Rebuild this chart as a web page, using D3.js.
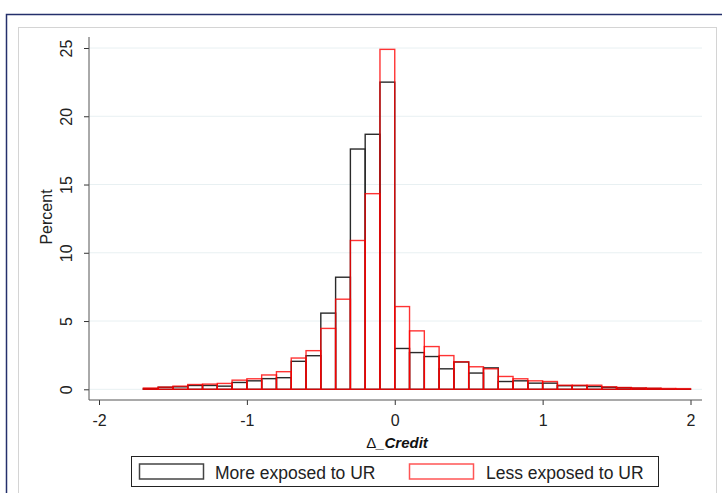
<!DOCTYPE html>
<html>
<head>
<meta charset="utf-8">
<title>Histogram of Delta Credit</title>
<script src="https://d3js.org/d3.v7.min.js"></script>
<style>
  body { margin: 0; background: #fff; }
  text { font-family: "Liberation Sans", Arial, sans-serif; }
</style>
</head>
<body>
<div id="container"></div>
<script>
// lower edge of each 0.1-wide bin
const binEdges = [-1.7, -1.6, -1.5, -1.4, -1.3, -1.2, -1.1, -1.0, -0.9, -0.8,
  -0.7, -0.6, -0.5, -0.4, -0.3, -0.2, -0.1, 0.0, 0.1, 0.2,
  0.3, 0.4, 0.5, 0.6, 0.7, 0.8, 0.9, 1.0, 1.1, 1.2,
  1.3, 1.4, 1.5, 1.6, 1.7, 1.8, 1.9];
const binWidth = 0.1;

// percent, "More exposed to UR"
const moreExposed = [0.05, 0.15, 0.18, 0.28, 0.28, 0.23, 0.5, 0.62, 0.78, 0.85,
  2.05, 2.46, 5.58, 8.21, 17.6, 18.68, 22.5, 2.99, 2.69, 2.4,
  1.5, 2.0, 1.19, 1.57, 0.57, 0.62, 0.45, 0.45, 0.26, 0.26,
  0.2, 0.15, 0.12, 0.08, 0.06, 0.02, 0.01];

// percent, "Less exposed to UR"
const lessExposed = [0.09, 0.16, 0.23, 0.35, 0.38, 0.43, 0.67, 0.77, 1.05, 1.29,
  2.29, 2.83, 4.46, 6.6, 10.9, 14.33, 24.9, 6.06, 4.28, 3.13,
  2.47, 2.01, 1.65, 1.5, 0.94, 0.77, 0.62, 0.57, 0.3, 0.3,
  0.3, 0.18, 0.13, 0.1, 0.08, 0.06, 0.05];

const xTicks = [-2, -1, 0, 1, 2];
const yTicks = [0, 5, 10, 15, 20, 25];
const seriesNames = ["More exposed to UR", "Less exposed to UR"];

const width = 722, height = 493;
const plotLeft = 89, plotRight = 702, plotTop = 37, plotBottom = 400;

const svg = d3.select("#container")
  .append("svg")
  .attr("width", width)
  .attr("height", height);

// outer frames
svg.append("rect")
  .attr("x", 6.5).attr("y", 14.5)
  .attr("width", 740).attr("height", 500)
  .attr("fill", "none").attr("stroke", "#24306b").attr("stroke-width", 1.5);
svg.append("rect")
  .attr("x", 18.5).attr("y", 27.5)
  .attr("width", 698).attr("height", 500)
  .attr("fill", "none").attr("stroke", "#d4d4d4").attr("stroke-width", 1);

const x = d3.scaleLinear().domain([-2, 2]).range([99, 690.5]);
const y = d3.scaleLinear().domain([0, 25]).range([389.3, 48]);

// gridlines
svg.append("g")
  .selectAll("line")
  .data(yTicks)
  .enter()
  .append("line")
  .attr("x1", plotLeft).attr("x2", plotRight)
  .attr("y1", d => y(d)).attr("y2", d => y(d))
  .attr("stroke", "#e8f0f2").attr("stroke-width", 1);

const bins = binEdges.map((b, i) => ({ x0: b, x1: b + binWidth, more: moreExposed[i], less: lessExposed[i] }));

// black outlines first, red on top
svg.append("g")
  .selectAll("rect")
  .data(bins)
  .enter()
  .append("rect")
  .attr("x", d => x(d.x0))
  .attr("width", d => x(d.x1) - x(d.x0))
  .attr("y", d => y(d.more))
  .attr("height", d => y(0) - y(d.more))
  .attr("fill", "none")
  .attr("stroke", "#2a2a2a")
  .attr("stroke-width", 1.4);

svg.append("g")
  .selectAll("rect")
  .data(bins)
  .enter()
  .append("rect")
  .attr("x", d => x(d.x0))
  .attr("width", d => x(d.x1) - x(d.x0))
  .attr("y", d => y(d.less))
  .attr("height", d => y(0) - y(d.less))
  .attr("fill", "none")
  .attr("stroke", "#ff0000")
  .attr("stroke-opacity", 0.8)
  .attr("stroke-width", 1.4);

// y axis
const yAxis = d3.axisLeft(y)
  .tickValues(yTicks)
  .tickSize(5)
  .tickSizeOuter(0)
  .tickFormat(d => String(d));

const gy = svg.append("g")
  .attr("transform", "translate(" + plotLeft + ",0)")
  .call(yAxis);
gy.select(".domain").remove();
gy.selectAll(".tick line").attr("stroke", "#333");
gy.selectAll(".tick text")
  .attr("x", 0).attr("y", -23).attr("dy", "0.35em")
  .attr("transform", "rotate(-90)")
  .attr("text-anchor", "middle")
  .style("font-size", "16px")
  .attr("fill", "#222");
svg.append("line")
  .attr("x1", plotLeft).attr("x2", plotLeft)
  .attr("y1", plotTop).attr("y2", plotBottom)
  .attr("stroke", "#555").attr("stroke-width", 1);

// x axis
const xAxis = d3.axisBottom(x)
  .tickValues(xTicks)
  .tickSize(5)
  .tickSizeOuter(0)
  .tickFormat(d => String(d));

const gx = svg.append("g")
  .attr("transform", "translate(0," + plotBottom + ")")
  .call(xAxis);
gx.select(".domain").remove();
gx.selectAll(".tick line").attr("stroke", "#333");
gx.selectAll(".tick text")
  .attr("y", 26).attr("dy", 0)
  .style("font-size", "16px")
  .attr("fill", "#222");
svg.append("line")
  .attr("x1", plotLeft).attr("x2", plotRight)
  .attr("y1", plotBottom).attr("y2", plotBottom)
  .attr("stroke", "#555").attr("stroke-width", 1);

// axis titles
svg.append("text")
  .attr("transform", "translate(52,217) rotate(-90)")
  .attr("text-anchor", "middle")
  .style("font-size", "16px")
  .attr("fill", "#222")
  .text("Percent");

const xTitle = svg.append("text")
  .attr("x", 397).attr("y", 448)
  .attr("text-anchor", "middle")
  .style("font-size", "15px")
  .attr("fill", "#111");
xTitle.append("tspan").text("Δ");
xTitle.append("tspan").style("font-weight", "bold").style("font-style", "italic").text("_Credit");

// legend
const legend = svg.append("g");
legend.append("rect")
  .attr("x", 131.5).attr("y", 456.5)
  .attr("width", 527).attr("height", 30)
  .attr("fill", "#fff").attr("stroke", "#222").attr("stroke-width", 1);

const legendItems = [
  { name: seriesNames[0], color: "#444", sx: 139.5, tx: 215 },
  { name: seriesNames[1], color: "#ff5555", sx: 409.5, tx: 486 }
];

legend.selectAll("rect.swatch")
  .data(legendItems)
  .enter()
  .append("rect")
  .attr("class", "swatch")
  .attr("x", d => d.sx).attr("y", 464)
  .attr("width", 64).attr("height", 15)
  .attr("fill", "none")
  .attr("stroke", d => d.color)
  .attr("stroke-width", 1.5);

legend.selectAll("text")
  .data(legendItems)
  .enter()
  .append("text")
  .attr("x", d => d.tx).attr("y", 478.5)
  .style("font-size", "17.5px")
  .attr("fill", "#222")
  .text(d => d.name);
</script>
</body>
</html>
